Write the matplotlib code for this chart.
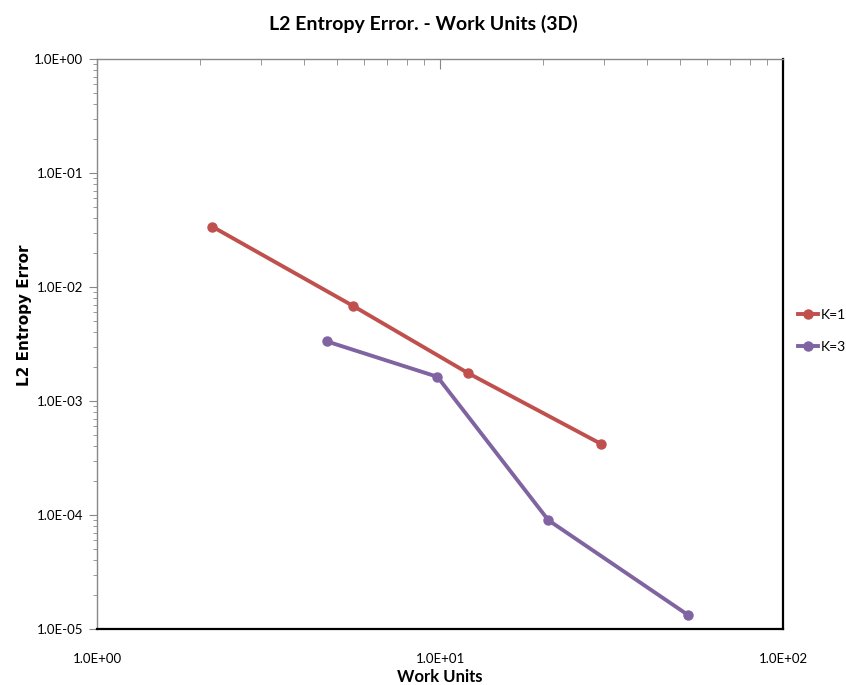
import matplotlib
matplotlib.use("Agg")
import matplotlib.pyplot as plt
from matplotlib.ticker import LogLocator, NullFormatter, FixedLocator
from matplotlib.lines import Line2D

# data
work_k1 = [2.17, 5.59, 12.1, 29.5]
err_k1 = [3.38e-2, 6.8e-3, 1.75e-3, 4.2e-4]
work_k3 = [4.67, 9.83, 20.7, 52.8]
err_k3 = [3.34e-3, 1.63e-3, 9.0e-5, 1.33e-5]
labels = ["K=1", "K=3"]
colors = ["#C0504D", "#8064A2"]

x_ticks = [1, 10, 100]
x_tick_labels = ["1.0E+00", "1.0E+01", "1.0E+02"]
y_ticks = [1e-5, 1e-4, 1e-3, 1e-2, 1e-1, 1]
y_tick_labels = ["1.0E-05", "1.0E-04", "1.0E-03", "1.0E-02", "1.0E-01", "1.0E+00"]

narrow = ["Lato", "DejaVu Sans"]

fig = plt.figure(figsize=(8.46, 6.85), dpi=100)
ax = fig.add_axes([97 / 846, 56 / 685, 686 / 846, 570 / 685])

ax.plot(work_k1, err_k1, color=colors[0], lw=2.8, marker="o", ms=6.5, solid_capstyle="round")
ax.plot(work_k3, err_k3, color=colors[1], lw=2.8, marker="o", ms=6.5, solid_capstyle="round")

ax.set_xscale("log")
ax.set_yscale("log")
ax.set_xlim(1, 100)
ax.set_ylim(1e-5, 1)

ax.xaxis.set_major_locator(FixedLocator(x_ticks))
ax.set_xticks(x_ticks, x_tick_labels, family=narrow, fontsize=9.5)
ax.xaxis.set_minor_locator(LogLocator(base=10, subs=range(2, 10)))
ax.xaxis.set_minor_formatter(NullFormatter())
ax.tick_params(axis="x", which="both", top=True, bottom=False, direction="in",
               color="#888888", labelbottom=True, pad=17)
ax.tick_params(axis="x", which="major", length=7)
ax.tick_params(axis="x", which="minor", length=4)

ax.set_yticks(y_ticks, y_tick_labels, family=narrow, fontsize=9.5)
ax.yaxis.set_minor_locator(LogLocator(base=10, subs=range(2, 10)))
ax.yaxis.set_minor_formatter(NullFormatter())
ax.tick_params(axis="y", which="both", direction="out", color="#888888", pad=4)
ax.tick_params(axis="y", which="major", length=6)
ax.tick_params(axis="y", which="minor", length=3)

for side in ["top", "left"]:
    ax.spines[side].set_color("#888888")
    ax.spines[side].set_linewidth(1.0)
for side in ["bottom", "right"]:
    ax.spines[side].set_color("black")
    ax.spines[side].set_linewidth(1.6)

ax.set_xlabel("Work Units", family=narrow, fontsize=12, fontweight="bold", labelpad=3)
ax.set_ylabel("L2 Entropy Error", fontsize=11, fontweight="bold", family="DejaVu Sans")
ax.yaxis.set_label_coords(-0.095, 0.55)
fig.suptitle("L2 Entropy Error. - Work Units (3D)", family=narrow, fontsize=14,
             fontweight="bold", y=0.978)

handles = [Line2D([0], [0], color=c, lw=2.8, marker="o", ms=6.5) for c in colors]
fig.legend(handles, labels, loc="center left", bbox_to_anchor=(792 / 846, 1 - 331 / 685),
           frameon=False, handlelength=1.5, handletextpad=0.15, labelspacing=1.4,
           borderaxespad=0, prop={"family": narrow, "size": 10})

fig.savefig("out.png", dpi=100)
